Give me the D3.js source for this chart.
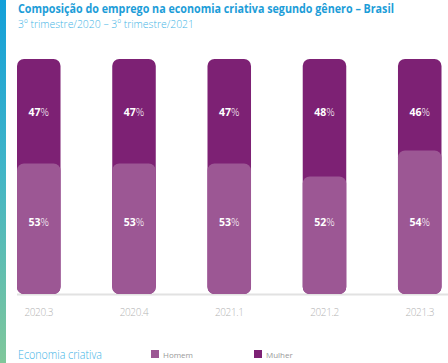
<!DOCTYPE html>
<html>
<head>
<meta charset="utf-8">
<script src="https://cdn.jsdelivr.net/npm/d3@7"></script>
<style>
  body { margin: 0; background: #fff; }
  svg { display: block; font-family: 'Open Sans', sans-serif; }
</style>
</head>
<body>
<div id="chart"></div>
<script>
// data
var periods = ['2020.3', '2020.4', '2021.1', '2021.2', '2021.3'];
var homem = [53, 53, 53, 52, 54];
var mulher = [47, 47, 47, 48, 46];
var seriesNames = ['Homem', 'Mulher'];

var width = 448, height = 363;
var colors = { Homem: '#9c5794', Mulher: '#7d2174' };

var svg = d3.select('#chart').append('svg')
  .attr('width', width)
  .attr('height', height);

// left accent stripe with gradient
var grad = svg.append('defs').append('linearGradient')
  .attr('id', 'stripe')
  .attr('x1', 0).attr('y1', 0).attr('x2', 0).attr('y2', 1);
grad.append('stop').attr('offset', '0%').attr('stop-color', '#139fd9');
grad.append('stop').attr('offset', '45%').attr('stop-color', '#3fb4c8');
grad.append('stop').attr('offset', '100%').attr('stop-color', '#80c79a');
svg.append('rect')
  .attr('x', 0).attr('y', 0)
  .attr('width', 6).attr('height', height)
  .attr('fill', 'url(#stripe)');

// squeeze text to the width it has in the picture
function squeeze(sel, w) {
  sel.attr('textLength', w).attr('lengthAdjust', 'spacingAndGlyphs');
}

// titles
svg.append('text')
  .attr('x', 18).attr('y', 13)
  .attr('font-size', 12)
  .attr('font-weight', 700)
  .attr('fill', '#1d9dd8')
  .text('Composição do emprego na economia criativa segundo gênero – Brasil')
  .call(squeeze, 376);

svg.append('text')
  .attr('x', 18).attr('y', 27.5)
  .attr('font-size', 11.5)
  .attr('font-weight', 300)
  .attr('fill', '#45b5e6')
  .text('3º trimestre/2020 – 3º trimestre/2021')
  .call(squeeze, 176);

// scales
var x = d3.scaleBand()
  .domain(periods)
  .range([17, 441.5])
  .paddingInner(0.543)
  .paddingOuter(0);

var y = d3.scaleLinear()
  .domain([43, 61])
  .range([294, 59]);

var baseY = y(43), topY = y(61);

// baseline
svg.append('line')
  .attr('x1', 17).attr('x2', width)
  .attr('y1', baseY + 0.5).attr('y2', baseY + 0.5)
  .attr('stroke', '#e2e2e2')
  .attr('stroke-width', 2);

var rows = periods.map(function(p, i) {
  return { period: p, homem: homem[i], mulher: mulher[i] };
});

var g = svg.selectAll('g.bar')
  .data(rows)
  .enter().append('g')
  .attr('class', 'bar')
  .attr('transform', function(d) { return 'translate(' + x(d.period) + ',0)'; });

// Mulher: full-height background bar
g.append('rect')
  .attr('x', 0).attr('y', topY)
  .attr('width', x.bandwidth())
  .attr('height', baseY - topY)
  .attr('rx', 7)
  .attr('fill', colors.Mulher);

// Homem: drawn over from the bottom
g.append('rect')
  .attr('x', 0)
  .attr('y', function(d) { return y(d.homem); })
  .attr('width', x.bandwidth())
  .attr('height', function(d) { return baseY - y(d.homem); })
  .attr('rx', 7)
  .attr('fill', colors.Homem);

// percentage labels
function pctLabel(sel, yPos, key) {
  var t = sel.append('text')
    .attr('x', x.bandwidth() / 2)
    .attr('y', yPos)
    .attr('text-anchor', 'middle')
    .attr('font-size', 10.5)
    .attr('fill', '#fff');
  t.append('tspan').attr('font-weight', 700).text(function(d) { return d[key]; });
  t.append('tspan').attr('font-weight', 300).text('%');
}
g.call(pctLabel, 115.5, 'mulher');
g.call(pctLabel, 226, 'homem');

// x axis labels
svg.selectAll('text.xlab')
  .data(periods)
  .enter().append('text')
  .attr('class', 'xlab')
  .attr('x', function(d) { return x(d) + x.bandwidth() / 2; })
  .attr('y', 315.5)
  .attr('text-anchor', 'middle')
  .attr('font-size', 10)
  .attr('font-weight', 300)
  .attr('fill', '#b4b4b4')
  .attr('letter-spacing', -0.4)
  .text(function(d) { return d; });

// legend
svg.append('text')
  .attr('x', 18).attr('y', 358.5)
  .attr('font-size', 12.5)
  .attr('font-weight', 300)
  .attr('fill', '#3db3e6')
  .text('Economia criativa')
  .call(squeeze, 84);

var legX = [151, 254];
var leg = svg.selectAll('g.leg')
  .data(seriesNames)
  .enter().append('g')
  .attr('class', 'leg')
  .attr('transform', function(d, i) { return 'translate(' + legX[i] + ',350)'; });
leg.append('rect')
  .attr('width', 8).attr('height', 8)
  .attr('fill', function(d) { return colors[d]; });
leg.append('text')
  .attr('x', 12).attr('y', 7.5)
  .attr('font-size', 8)
  .attr('fill', '#999')
  .text(function(d) { return d; });
</script>
</body>
</html>
